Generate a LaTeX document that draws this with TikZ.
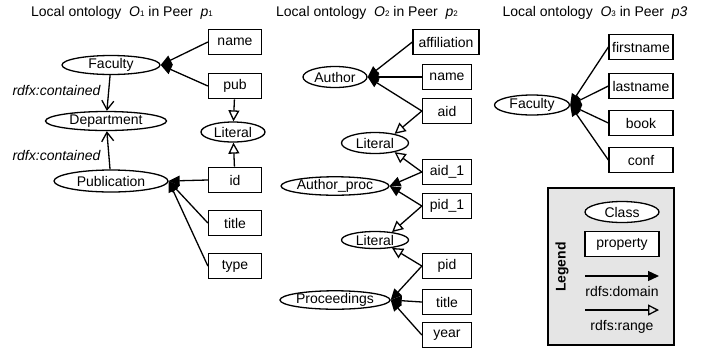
\documentclass[tikz,border=0pt]{standalone}
\usepackage{fontspec}
\setmainfont{Liberation Sans}
\usetikzlibrary{shapes.geometric,arrows.meta}
\tikzset{
  every node/.style={font=\fontsize{14}{16}\selectfont},
  cls/.style={draw,ellipse,inner sep=0pt,line width=1.3pt},
  prop/.style={draw,rectangle,inner sep=0pt,line width=1.3pt,minimum height=25.5pt},
  dom/.style={-{Triangle[length=11pt,width=10pt]},line width=1.3pt},
  rng/.style={-{Triangle[open,length=11pt,width=11pt]},line width=1.3pt},
  sub/.style={-{Straight Barb[length=9pt,width=12pt]},line width=1.3pt},
  lbl/.style={font=\fontsize{14}{16}\selectfont\itshape,anchor=east}
}
\newcommand{\onto}[2]{Local ontology\ \ {\itshape O}{\footnotesize #1} in Peer\ \ #2}

\begin{document}
\begin{tikzpicture}[x=1pt,y=-1pt]
  \useasboundingbox (0,0) rectangle (714,349);

  % Peer p1
  \node (tA) at (122,13) {\onto{1}{{\itshape p}{\footnotesize 1}}};
  \node[cls,minimum width=98pt,minimum height=19pt] (facA) at (111,65) {Faculty};
  \node[cls,minimum width=121pt,minimum height=19pt] (dep) at (106,121) {Department};
  \node[cls,minimum width=114pt,minimum height=22pt] (pub) at (111,181) {Publication};
  \node[cls,minimum width=64pt,minimum height=20pt] (litA) at (233,132) {Literal};
  \node[prop,minimum width=53pt] (nameA) at (235,42) {name};
  \node[prop,minimum width=53pt] (pubA) at (235,86) {pub};
  \node[prop,minimum width=53pt] (idA) at (235,180) {id};
  \node[prop,minimum width=53pt] (titleA) at (235,223) {title};
  \node[prop,minimum width=53pt] (typeA) at (235,266) {type};
  \node[lbl] (cA) at (104,90) {rdfx:contained};
  \node[lbl] (cB) at (104,155) {rdfx:contained};

  \draw[sub] (facA) -- (dep);
  \draw[sub] (pub) -- (dep);
  \foreach \p in {nameA,pubA} \draw[dom] (\p.west) -- (facA.east);
  \foreach \p in {idA,titleA,typeA} \draw[dom] (\p.west) -- (pub.east);
  \draw[rng] (pubA) -- (litA);
  \draw[rng] (idA) -- (litA);

  % Peer p2
  \node (tB) at (367,13) {\onto{2}{{\itshape p}{\footnotesize 2}}};
  \node[cls,minimum width=64pt,minimum height=21pt] (auth) at (335,77) {Author};
  \node[cls,minimum width=67pt,minimum height=21pt] (litB) at (375,143) {Literal};
  \node[cls,minimum width=96pt,minimum height=17pt] (aproc) at (335,186) {Author\_proc};
  \node[cls,minimum width=67pt,minimum height=17pt] (litC) at (375,240) {Literal};
  \node[cls,minimum width=96pt,minimum height=17pt] (proc) at (335,300) {Proceedings};
  \node[prop,minimum width=66pt] (affil) at (446,42) {affiliation};
  \node[prop,minimum width=49pt] (nameB) at (447,77) {name};
  \node[prop,minimum width=49pt] (aid) at (447,111) {aid};
  \node[prop,minimum width=49pt] (aidA) at (447,172) {aid\_1};
  \node[prop,minimum width=49pt] (pidA) at (447,206) {pid\_1};
  \node[prop,minimum width=49pt] (pid) at (447,266) {pid};
  \node[prop,minimum width=49pt] (titleB) at (447,302) {title};
  \node[prop,minimum width=49pt] (year) at (447,335) {year};

  \foreach \p in {affil,nameB,aid} \draw[dom] (\p.west) -- (auth.east);
  \foreach \p in {aidA,pidA} \draw[dom] (\p.west) -- (aproc.east);
  \foreach \p in {pid,titleB,year} \draw[dom] (\p.west) -- (proc.east);
  \draw[rng] (aid.west) -- (litB.25);
  \draw[rng] (aidA.west) -- (litB.-25);
  \draw[rng] (pidA.west) -- (litC.25);
  \draw[rng] (pid.west) -- (litC.-25);

  % Peer p3
  \node (tC) at (595,13) {\onto{3}{{\itshape p3}}};
  \node[cls,minimum width=75pt,minimum height=20pt] (facC) at (532,105) {Faculty};
  \node[prop,minimum width=64pt] (first) at (641,47) {firstname};
  \node[prop,minimum width=64pt] (last) at (641,86) {lastname};
  \node[prop,minimum width=64pt] (book) at (641,123) {book};
  \node[prop,minimum width=64pt] (conf) at (641,160) {conf};

  \foreach \p in {first,last,book,conf} \draw[dom] (\p.west) -- (facC.east);

  % Legend
  \node[draw,fill=black!10,line width=1.3pt,minimum width=126pt,minimum height=157pt] (legend) at (611,266.5) {};
  \node[rotate=90,font=\fontsize{14}{16}\selectfont\bfseries] (lgd) at (562,267) {Legend};
  \node[cls,fill=white,minimum width=74pt,minimum height=21pt] (clsL) at (622,212) {Class};
  \node[prop,fill=white,minimum width=74pt] (propL) at (622,244) {property};
  \coordinate (d0) at (585,276);
  \coordinate (d1) at (659,276);
  \coordinate (r0) at (585,310);
  \coordinate (r1) at (659,310);
  \draw[dom] (d0) -- (d1);
  \draw[rng] (r0) -- (r1);
  \node (domL) at (622,291) {rdfs:domain};
  \node (rngL) at (622,327) {rdfs:range};
\end{tikzpicture}
\end{document}
